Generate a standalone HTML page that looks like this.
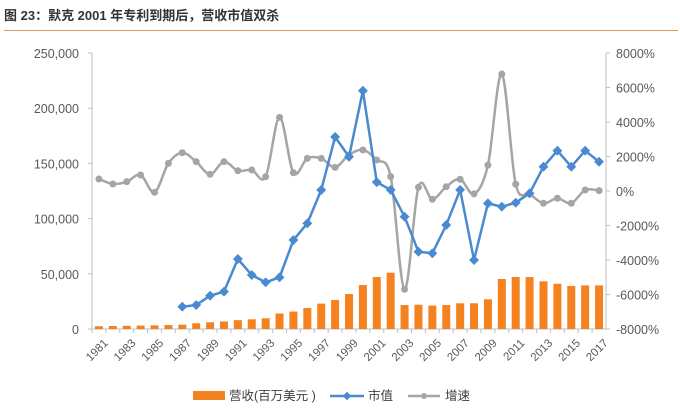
<!DOCTYPE html>
<html><head><meta charset="utf-8"><style>
body{margin:0;background:#fff;width:680px;height:408px;overflow:hidden;font-family:"Liberation Sans","Noto Sans CJK SC",sans-serif}
#title{position:absolute;left:4px;top:5px;font-size:13px;font-weight:bold;color:#333}
#rule{position:absolute;left:4px;top:30px;width:674px;height:1px;background:#e39a5b}
</style></head><body>
<div id="title">图 23：默克 2001 年专利到期后，营收市值双杀</div>
<div id="rule"></div>
<svg id="c" width="680" height="408" style="position:absolute;left:0;top:0"></svg>
<script>
const years=[];for(let y=1981;y<=2017;y++)years.push(y);
const revenue=[2500,2700,2900,3100,3300,3600,3900,5200,6100,6800,8000,8800,9700,14000,15800,19000,23000,26300,31700,39800,47100,51000,21700,22000,21200,21700,23300,23300,26900,45300,47100,47000,43200,41000,39000,39500,39500];
const marketCap=[null,null,null,null,null,null,20200,21700,30200,33800,63400,48900,42300,46800,80600,95700,125900,174000,156000,215800,133000,126000,101700,70000,68600,94200,126000,62500,113800,110800,114400,122900,147000,161500,147000,161500,151500];
const growth=[696,406,540,928,-77,1600,2220,1700,966,1700,1177,1217,830,4270,1060,1890,1890,1370,2090,2380,1800,830,-5700,215,-480,250,680,-170,1500,6780,400,-170,-710,-420,-710,60,20];
const leftTicks=[0,50000,100000,150000,200000,250000];
const rightTicks=[-8000,-6000,-4000,-2000,0,2000,4000,6000,8000];
const NS="http://www.w3.org/2000/svg",svg=document.getElementById('c');
const X0=92,X1=606,Y0=329,Y1=53,n=years.length,bw=(X1-X0)/n;
const xs=i=>X0+bw*(i+0.5);
const yl=v=>Y0-(v/250000)*(Y0-Y1);
const yr=v=>Y0-((v+8000)/16000)*(Y0-Y1);
function el(t,a,p){const e=document.createElementNS(NS,t);for(const k in a)e.setAttribute(k,a[k]);(p||svg).appendChild(e);return e;}
// axes
const ax=el('line',{x1:X0,y1:Y1,x2:X0,y2:Y0,stroke:'#bfbfbf'});
const ax2=el('line',{x1:X1,y1:Y1,x2:X1,y2:Y0,stroke:'#bfbfbf'});
const ax3=el('line',{x1:X0,y1:Y0,x2:X1,y2:Y0,stroke:'#bfbfbf'});
leftTicks.forEach(v=>{const y=yl(v);el('line',{x1:X0-4,y1:y,x2:X0,y2:y,stroke:'#bfbfbf'});
const t=el('text',{x:X0-13,y:y+5,'text-anchor':'end','font-size':12.5,fill:'#595959'});t.textContent=v.toLocaleString('en-US');
});
rightTicks.forEach(v=>{const y=yr(v);el('line',{x1:X1,y1:y,x2:X1+4,y2:y,stroke:'#bfbfbf'});
const t=el('text',{x:X1+10,y:y+5,'font-size':12.5,fill:'#595959'});t.textContent=v+'%';
});
years.forEach((yr_,i)=>{el('line',{x1:X0+bw*i,y1:Y0,x2:X0+bw*i,y2:Y0+4,stroke:'#bfbfbf'});
if(i%2==0){const x=xs(i)+4,y=Y0+9;const t=el('text',{x:x,y:y,'text-anchor':'end','font-size':11.5,fill:'#595959',transform:`rotate(-45 ${x} ${y})`,dy:'0.7em'});t.textContent=yr_;
}});
// bars
revenue.forEach((v,i)=>{const b=el('rect',{x:xs(i)-4,y:yl(v),width:8,height:Y0-yl(v),fill:'#f58220'});
});
// growth smooth
const gp=growth.map((v,i)=>[xs(i),yr(v)]);
let d='M'+gp[0][0]+','+gp[0][1];
for(let i=0;i<gp.length-1;i++){const p0=gp[Math.max(0,i-1)],p1=gp[i],p2=gp[i+1],p3=gp[Math.min(gp.length-1,i+2)];
d+=`C${p1[0]+(p2[0]-p0[0])/6},${p1[1]+(p2[1]-p0[1])/6} ${p2[0]-(p3[0]-p1[0])/6},${p2[1]-(p3[1]-p1[1])/6} ${p2[0]},${p2[1]}`;}
const gl=el('path',{d:d,fill:'none',stroke:'#a5a5a5','stroke-width':2.5});
gp.forEach(p=>{const m=el('circle',{cx:p[0],cy:p[1],r:3.5,fill:'#a5a5a5'});});
// market cap
const mp=[];marketCap.forEach((v,i)=>{if(v!=null)mp.push([xs(i),yl(v)]);});
const ml=el('polyline',{points:mp.map(p=>p.join(',')).join(' '),fill:'none',stroke:'#4a8ad0','stroke-width':2.5});
mp.forEach(p=>{const m=el('rect',{x:p[0]-3.5,y:p[1]-3.5,width:7,height:7,fill:'#4a8ad0',transform:`rotate(45 ${p[0]} ${p[1]})`});});
// legend
const lg=el('g',{});
el('rect',{x:193,y:391,width:32,height:9,fill:'#f58220'},lg);
let t=el('text',{x:229,y:400,'font-size':12.5,fill:'#404040'},lg);t.textContent='营收(百万美元 )';
el('line',{x1:330,y1:396,x2:364,y2:396,stroke:'#4a8ad0','stroke-width':2.5},lg);
el('rect',{x:344,y:393,width:6,height:6,fill:'#4a8ad0',transform:'rotate(45 347 396)'},lg);
t=el('text',{x:368,y:400,'font-size':12.5,fill:'#404040'},lg);t.textContent='市值';
el('line',{x1:408,y1:396,x2:440,y2:396,stroke:'#a5a5a5','stroke-width':2.5},lg);
el('circle',{cx:424,cy:396,r:3,fill:'#a5a5a5'},lg);
t=el('text',{x:445,y:400,'font-size':12.5,fill:'#404040'},lg);t.textContent='增速';
</script>
</body></html>
